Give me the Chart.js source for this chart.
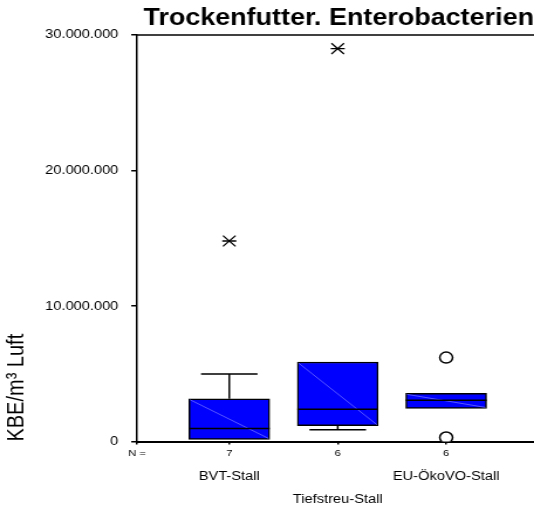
<!DOCTYPE html>
<html>
<head>
<meta charset="utf-8">
<script src="https://cdn.jsdelivr.net/npm/chart.js@4"></script>
<style>
  html, body { margin: 0; padding: 0; background: #fff; }
  #frame { width: 534px; height: 511px; overflow: hidden; position: relative; }
  /* plot is laid out narrower and stretched sideways, like the SPSS export;
     the frame cuts off its right end */
  #wrap { width: 466px; height: 511px; transform: scaleX(1.1711); transform-origin: 0 0; }
</style>
</head>
<body>
<div id="frame"><div id="wrap"><canvas id="chart"></canvas></div></div>
<script>
// groups and box statistics (KBE/m³ Luft)
const categories = ['BVT-Stall', 'Tiefstreu-Stall', 'EU-ÖkoVO-Stall'];
const nCounts = [7, 6, 6];
const whiskerLow = [160000, 870000, 2450000];
const q1 = [160000, 1170000, 2450000];
const median = [970000, 2380000, 3060000];
const q3 = [3160000, 5870000, 3560000];
const whiskerHigh = [4980000, 5870000, 3560000];

// extremes (*) and outliers (o)
const extremeGroup = ['BVT-Stall', 'Tiefstreu-Stall'];
const extremeValue = [14800000, 29000000];
const outlierGroup = ['EU-ÖkoVO-Stall', 'EU-ÖkoVO-Stall'];
const outlierValue = [6200000, 300000];

const yTicks = [0, 10000000, 20000000, 30000000];

const X_MIN = 0.15, X_MAX = 3.81;
const FONT = "'Liberation Sans', Arial, sans-serif";
Chart.defaults.color = '#000';
Chart.defaults.font.family = FONT;

const pos = name => categories.indexOf(name) + 1;
const fmt = v => String(v).replace(/\B(?=(\d{3})+(?!\d))/g, '.');

const boxData = categories.map((c, i) => ({x: i + 1, y: [q1[i], q3[i]]}));
const extremes = extremeGroup.map((g, i) => ({x: pos(g), y: extremeValue[i]}));
const outliers = outlierGroup.map((g, i) => ({x: pos(g), y: outlierValue[i]}));

// medians, whiskers, the thin diagonal in each box and the top frame line
const boxExtras = {
  id: 'boxExtras',
  afterDatasetsDraw(chart) {
    const {ctx, scales: {x, y}, chartArea} = chart;
    const bars = chart.getDatasetMeta(0).data;
    ctx.save();
    categories.forEach((c, i) => {
      const cx = x.getPixelForValue(i + 1);
      const hw = bars[i].width / 2;
      const cap = hw * 0.7;
      const yq1 = y.getPixelForValue(q1[i]), yq3 = y.getPixelForValue(q3[i]);
      ctx.strokeStyle = '#7b7bff';
      ctx.lineWidth = 0.7;
      ctx.beginPath();
      ctx.moveTo(cx - hw + 1, yq3 + 1);
      ctx.lineTo(cx + hw - 1, yq1 - 1);
      ctx.stroke();
      ctx.strokeStyle = '#000';
      ctx.lineWidth = 1.5;
      ctx.beginPath();
      const ym = y.getPixelForValue(median[i]);
      ctx.moveTo(cx - hw, ym); ctx.lineTo(cx + hw, ym);
      const yh = y.getPixelForValue(whiskerHigh[i]);
      if (yh < yq3) {
        ctx.moveTo(cx, yq3); ctx.lineTo(cx, yh);
        ctx.moveTo(cx - cap, yh); ctx.lineTo(cx + cap, yh);
      }
      const yl = y.getPixelForValue(whiskerLow[i]);
      if (yl > yq1) {
        ctx.moveTo(cx, yq1); ctx.lineTo(cx, yl);
        ctx.moveTo(cx - cap, yl); ctx.lineTo(cx + cap, yl);
      }
      ctx.stroke();
    });
    ctx.lineWidth = 1.5;
    ctx.beginPath();
    ctx.moveTo(chartArea.left, chartArea.top);
    ctx.lineTo(chartArea.right, chartArea.top);
    ctx.stroke();
    ctx.restore();
  }
};

new Chart(document.getElementById('chart'), {
  data: {
    datasets: [
      {type: 'bar', data: boxData, backgroundColor: '#0000ff', borderColor: '#000',
       borderWidth: 1.5, borderSkipped: false, barThickness: 69},
      {type: 'scatter', data: extremes, pointStyle: 'crossRot', radius: 7.6,
       borderColor: '#000', borderWidth: 1.3},
      {type: 'scatter', data: extremes, pointStyle: 'line', radius: 6,
       borderColor: '#000', borderWidth: 1.3},
      {type: 'scatter', data: outliers, pointStyle: 'circle', radius: 5.5,
       backgroundColor: '#fff', borderColor: '#000', borderWidth: 1.5}
    ]
  },
  options: {
    responsive: true,
    maintainAspectRatio: false,
    animation: false,
    layout: {padding: {left: 0, right: 10, top: 0, bottom: -2.4}},
    plugins: {
      legend: {display: false},
      tooltip: {enabled: false},
      title: {
        display: true,
        text: 'Trockenfutter. Enterobacterien',
        align: 'end',
        color: '#000',
        font: {family: FONT, size: 23, weight: 'bold'},
        padding: {top: 4.9, bottom: 2.5}
      }
    },
    scales: {
      x: {
        type: 'linear', position: 'bottom', weight: 1, offset: false,
        min: X_MIN, max: X_MAX,
        afterBuildTicks: axis => { axis.ticks = [X_MIN, 1, 2, 3].map(v => ({value: v})); },
        ticks: {
          font: {size: 9.5}, padding: 3.2, autoSkip: false, maxRotation: 0,
          callback: (v, i) => i === 0 ? 'N =' : String(nCounts[i - 1])
        },
        grid: {drawOnChartArea: false, offset: false, tickLength: 3, color: '#000', lineWidth: 1.5},
        border: {display: true, color: '#000', width: 2}
      },
      xCat: {
        type: 'linear', position: 'bottom', weight: 2, offset: false,
        min: X_MIN, max: X_MAX,
        afterBuildTicks: axis => { axis.ticks = categories.map((c, i) => ({value: i + 1})); },
        ticks: {
          font: {size: 12.5, lineHeight: 1.8}, padding: 3, autoSkip: false, maxRotation: 0,
          callback: (v, i) => i % 2 === 1 ? ['', categories[i]] : [categories[i], '']
        },
        grid: {display: false, drawTicks: false},
        border: {display: false}
      },
      y: {
        min: 0, max: 30000000,
        afterBuildTicks: axis => { axis.ticks = yTicks.map(v => ({value: v})); },
        ticks: {font: {size: 12.5}, padding: 11, callback: v => fmt(v)},
        grid: {drawOnChartArea: false, tickLength: 5, color: '#000', lineWidth: 1.5},
        border: {display: true, color: '#000', width: 1.5},
        title: {
          display: true, text: 'KBE/m³ Luft', align: 'start',
          font: {size: 20}, padding: {top: 2.5, bottom: 1}
        }
      }
    }
  },
  plugins: [boxExtras]
});
</script>
</body>
</html>
